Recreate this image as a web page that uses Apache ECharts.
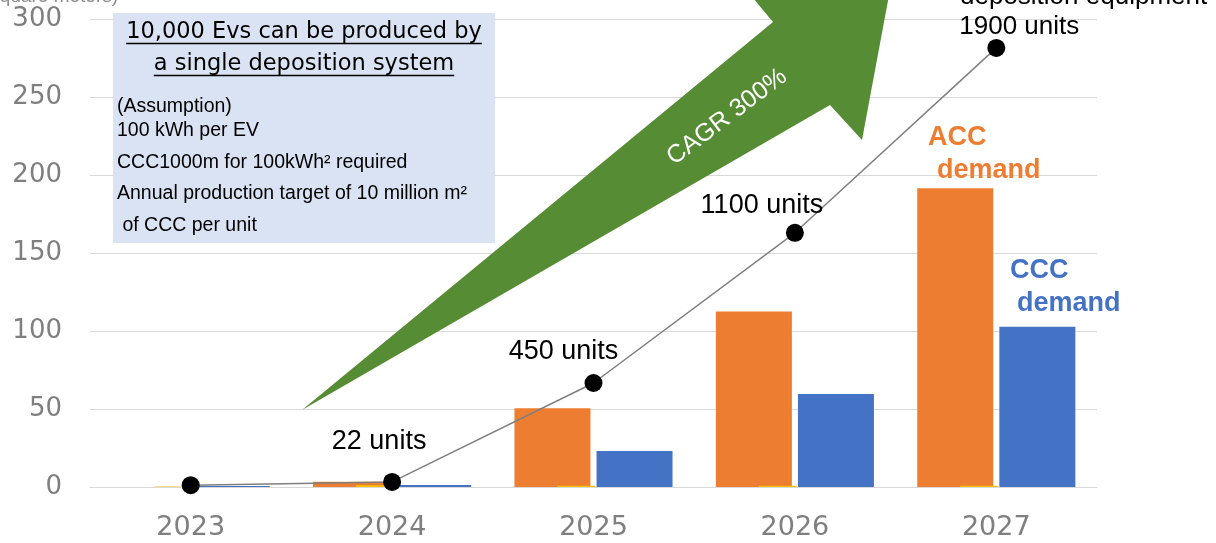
<!DOCTYPE html>
<html>
<head>
<meta charset="utf-8">
<script src="https://cdn.jsdelivr.net/npm/echarts@6/dist/echarts.min.js"></script>
<style>
  html, body { margin: 0; padding: 0; background: #ffffff; }
  #chart { width: 1216px; height: 543px; }
</style>
</head>
<body>
<div id="chart"></div>
<script>
// Years on the category axis
const years = ['2023', '2024', '2025', '2026', '2027'];
// Demand, million square meters
const accDemand = [0, 3.4, 50.5, 112.5, 191.5];
const cccDemand = [0.7, 1.3, 23, 59.6, 102.8];
const otherDemand = [0.3, 1.2, 0.8, 0.8, 0.8];
// Deposition equipment, units
const equipmentUnits = [8, 22, 450, 1100, 1900];
// Left axis ticks
const yTicks = [0, 50, 100, 150, 200, 250, 300];

// Label placement for the equipment counts (offset from each point)
const unitLabelOffsets = [null, [-13, -40], [-30, -31], [-33, -27], [23, -21]];

const boxTitle = ['10,000 Evs can be produced by', 'a single deposition system'];
const boxLines = [
  '(Assumption)',
  '100 kWh per EV',
  'CCC1000m for 100kWh\u00b2 required',
  'Annual production target of 10 million m\u00b2',
  ' of CCC per unit'
];

const chart = echarts.init(document.getElementById('chart'), null, { renderer: 'canvas' });

function measure(str, font) {
  const ctx = document.createElement('canvas').getContext('2d');
  ctx.font = font;
  return ctx.measureText(str).width;
}

const titleFont = 'DejaVu Sans';
const titleSize = 22.5;
const titleCx = 304;
const titleBaselines = [40, 72];
const bodyBaselines = [113, 137, 169, 200, 232];
const bodySize = 19.5;

const graphics = [];

// Growth arrow
graphics.push({
  type: 'polygon',
  z: 1,
  shape: { points: [[302, 410], [773, 22], [743, -14], [890, -10], [862, 140], [830, 105]] },
  style: { fill: '#568C33' }
});
graphics.push({
  type: 'text',
  z: 2,
  x: 727, y: 117,
  rotation: 37 * Math.PI / 180,
  style: {
    text: 'CAGR 300%', fill: '#ffffff',
    font: '25px "Liberation Sans", Arial, sans-serif',
    align: 'center', verticalAlign: 'middle'
  }
});

// Assumption box
graphics.push({
  type: 'rect', z: 5,
  shape: { x: 113, y: 13, width: 382, height: 230 },
  style: { fill: '#DAE3F3' }
});
boxTitle.forEach((t, i) => {
  const w = measure(t, titleSize + 'px "' + titleFont + '"');
  graphics.push({
    type: 'text', z: 6,
    x: titleCx, y: titleBaselines[i] - 0.35 * titleSize,
    style: {
      text: t, fill: '#000000',
      font: titleSize + 'px "' + titleFont + '", sans-serif',
      align: 'center', verticalAlign: 'middle'
    }
  });
  graphics.push({
    type: 'line', z: 6,
    shape: { x1: titleCx - w / 2, y1: titleBaselines[i] + 3.5, x2: titleCx + w / 2, y2: titleBaselines[i] + 3.5 },
    style: { stroke: '#000000', lineWidth: 1.5 }
  });
});
boxLines.forEach((t, i) => {
  graphics.push({
    type: 'text', z: 6,
    x: 117, y: bodyBaselines[i] - 0.35 * bodySize,
    style: {
      text: t, fill: '#000000',
      font: bodySize + 'px "Liberation Sans", Arial, sans-serif',
      align: 'left', verticalAlign: 'middle'
    }
  });
});

// Unit caption at top-left
graphics.push({
  type: 'text', z: 6,
  x: -16, y: 3 - 0.35 * 19,
  style: {
    text: '(square meters)', fill: '#8c8c8c',
    font: '19px "Liberation Sans", Arial, sans-serif',
    align: 'left', verticalAlign: 'middle'
  }
});

// Equipment caption at top-right
graphics.push({
  type: 'text', z: 6,
  x: 960, y: 6 - 0.35 * 26,
  style: {
    text: 'deposition equipment', fill: '#000000',
    font: '26px "Liberation Sans", Arial, sans-serif',
    align: 'left', verticalAlign: 'middle'
  }
});

// Series captions
const capFont = 'bold 27px "Liberation Sans", Arial, sans-serif';
[
  { t: 'ACC', x: 928, b: 147, c: '#ED7D31' },
  { t: 'demand', x: 937, b: 180, c: '#ED7D31' },
  { t: 'CCC', x: 1010, b: 280, c: '#4472C4' },
  { t: 'demand', x: 1017, b: 313, c: '#4472C4' }
].forEach(o => {
  graphics.push({
    type: 'text', z: 6,
    x: o.x, y: o.b - 0.35 * 27,
    style: { text: o.t, fill: o.c, font: capFont, align: 'left', verticalAlign: 'middle' }
  });
});

const option = {
  animation: false,
  backgroundColor: '#ffffff',
  grid: { left: 90, right: 119, top: 19, bottom: 56, containLabel: false },
  xAxis: [
    {
      type: 'category',
      data: years,
      axisLine: { show: true, lineStyle: { color: '#d9d9d9', width: 1 } },
      axisTick: { show: false },
      axisLabel: {
        color: '#7f7f7f', fontSize: 27, fontFamily: 'DejaVu Sans', margin: 27
      }
    },
    {
      type: 'category',
      data: years,
      show: false
    }
  ],
  yAxis: [
    {
      type: 'value',
      min: yTicks[0],
      max: yTicks[yTicks.length - 1],
      interval: yTicks[1] - yTicks[0],
      axisLine: { show: false },
      axisTick: { show: false },
      splitLine: { lineStyle: { color: '#d9d9d9', width: 1 } },
      axisLabel: {
        color: '#7f7f7f', fontSize: 26, fontFamily: 'DejaVu Sans', margin: 28
      }
    },
    {
      type: 'value',
      min: 0,
      max: 2025,
      show: false,
      splitLine: { show: false }
    }
  ],
  series: [
    {
      name: 'ACC demand',
      type: 'bar',
      xAxisIndex: 0, yAxisIndex: 0,
      data: accDemand,
      barWidth: 76,
      barGap: '8%',
      itemStyle: { color: '#ED7D31' },
      z: 2
    },
    {
      name: 'CCC demand',
      type: 'bar',
      xAxisIndex: 0, yAxisIndex: 0,
      data: cccDemand,
      barWidth: 76,
      barGap: '8%',
      itemStyle: { color: '#4472C4' },
      z: 2
    },
    {
      name: 'Other',
      type: 'bar',
      xAxisIndex: 1, yAxisIndex: 0,
      data: otherDemand,
      barWidth: 38,
      barGap: '-10%',
      itemStyle: { color: '#FFC000' },
      z: 3
    },
    {
      name: 'spacer',
      type: 'bar',
      xAxisIndex: 1, yAxisIndex: 0,
      data: years.map(() => '-'),
      barWidth: 38,
      barGap: '-10%',
      itemStyle: { color: 'rgba(0,0,0,0)' },
      silent: true
    },
    {
      name: 'Deposition equipment',
      type: 'line',
      xAxisIndex: 0, yAxisIndex: 1,
      z: 5,
      symbol: 'circle',
      symbolSize: 18,
      lineStyle: { color: '#7f7f7f', width: 1.5 },
      itemStyle: { color: '#000000' },
      data: equipmentUnits.map((v, i) => ({
        value: v,
        label: unitLabelOffsets[i] ? {
          show: true,
          position: 'inside',
          offset: unitLabelOffsets[i],
          formatter: '{c} units',
          color: '#000000',
          fontSize: i === 4 ? 26 : 27,
          fontFamily: 'Liberation Sans',
          align: 'center',
          verticalAlign: 'middle'
        } : { show: false }
      }))
    }
  ],
  graphic: { elements: graphics }
};

chart.setOption(option);
</script>
</body>
</html>
